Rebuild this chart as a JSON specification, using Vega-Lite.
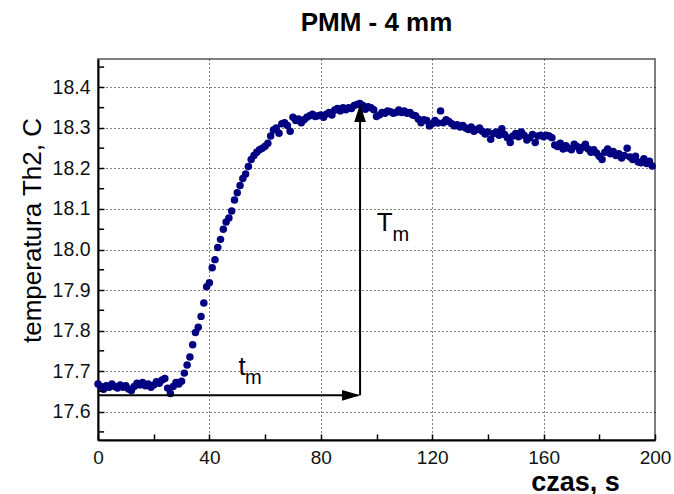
{
  "$schema": "https://vega.github.io/schema/vega-lite/v6.json",
  "width": 557,
  "height": 381,
  "autosize": {"type": "none"},
  "padding": {"left": 98, "top": 59, "right": 19, "bottom": 54},
  "background": "white",
  "config": {
    "font": "Liberation Sans",
    "view": {"stroke": "#555555", "strokeWidth": 1.5}
  },
  "title": {"text": "PMM - 4 mm", "fontSize": 26, "fontWeight": "bold", "anchor": "middle", "baseline": "alphabetic", "offset": 2, "color": "#000000", "font": "Liberation Sans"},
  "datasets": {
    "temp": [
      {"t":0,"T":17.668},{"t":1,"T":17.662},{"t":2,"T":17.655},{"t":3,"T":17.664},{"t":4,"T":17.66},
      {"t":5,"T":17.668},{"t":6,"T":17.662},{"t":7,"T":17.658},{"t":8,"T":17.666},{"t":9,"T":17.66},
      {"t":10,"T":17.664},{"t":11,"T":17.656},{"t":12,"T":17.652},{"t":13,"T":17.662},{"t":14,"T":17.67},
      {"t":15,"T":17.666},{"t":16,"T":17.672},{"t":17,"T":17.664},{"t":18,"T":17.668},{"t":19,"T":17.66},
      {"t":20,"T":17.666},{"t":21,"T":17.674},{"t":22,"T":17.67},{"t":23,"T":17.678},{"t":24,"T":17.682},
      {"t":25,"T":17.658},{"t":26,"T":17.645},{"t":27,"T":17.662},{"t":28,"T":17.672},{"t":29,"T":17.668},
      {"t":30,"T":17.675},{"t":31,"T":17.695},{"t":32,"T":17.715},{"t":33,"T":17.735},{"t":34,"T":17.765},
      {"t":35,"T":17.795},{"t":36,"T":17.808},{"t":37,"T":17.835},{"t":38,"T":17.868},{"t":39,"T":17.908},
      {"t":40,"T":17.918},{"t":41,"T":17.955},{"t":42,"T":17.975},{"t":43,"T":18.005},{"t":44,"T":18.025},
      {"t":45,"T":18.05},{"t":46,"T":18.068},{"t":47,"T":18.078},{"t":48,"T":18.095},{"t":49,"T":18.122},
      {"t":50,"T":18.14},{"t":51,"T":18.158},{"t":52,"T":18.175},{"t":53,"T":18.186},{"t":54,"T":18.205},
      {"t":55,"T":18.222},{"t":56,"T":18.232},{"t":57,"T":18.24},{"t":58,"T":18.246},{"t":59,"T":18.25},
      {"t":60,"T":18.255},{"t":61,"T":18.262},{"t":62,"T":18.28},{"t":63,"T":18.295},{"t":64,"T":18.3},
      {"t":65,"T":18.287},{"t":66,"T":18.31},{"t":67,"T":18.313},{"t":68,"T":18.306},{"t":69,"T":18.292},
      {"t":70,"T":18.326},{"t":71,"T":18.318},{"t":72,"T":18.322},{"t":73,"T":18.313},{"t":74,"T":18.32},
      {"t":75,"T":18.326},{"t":76,"T":18.33},{"t":77,"T":18.334},{"t":78,"T":18.328},{"t":79,"T":18.33},
      {"t":80,"T":18.332},{"t":81,"T":18.326},{"t":82,"T":18.334},{"t":83,"T":18.338},{"t":84,"T":18.332},
      {"t":85,"T":18.344},{"t":86,"T":18.348},{"t":87,"T":18.342},{"t":88,"T":18.35},{"t":89,"T":18.345},
      {"t":90,"T":18.35},{"t":91,"T":18.348},{"t":92,"T":18.355},{"t":93,"T":18.358},{"t":94,"T":18.36},
      {"t":95,"T":18.356},{"t":96,"T":18.346},{"t":97,"T":18.352},{"t":98,"T":18.35},{"t":99,"T":18.345},
      {"t":100,"T":18.328},{"t":101,"T":18.332},{"t":102,"T":18.338},{"t":103,"T":18.336},{"t":104,"T":18.342},
      {"t":105,"T":18.34},{"t":106,"T":18.336},{"t":107,"T":18.338},{"t":108,"T":18.344},{"t":109,"T":18.338},
      {"t":110,"T":18.342},{"t":111,"T":18.336},{"t":112,"T":18.338},{"t":113,"T":18.332},{"t":114,"T":18.33},
      {"t":115,"T":18.322},{"t":116,"T":18.313},{"t":117,"T":18.32},{"t":118,"T":18.318},{"t":119,"T":18.305},
      {"t":120,"T":18.31},{"t":121,"T":18.318},{"t":122,"T":18.312},{"t":123,"T":18.342},{"t":124,"T":18.313},
      {"t":125,"T":18.32},{"t":126,"T":18.316},{"t":127,"T":18.31},{"t":128,"T":18.305},{"t":129,"T":18.308},
      {"t":130,"T":18.302},{"t":131,"T":18.306},{"t":132,"T":18.3},{"t":133,"T":18.296},{"t":134,"T":18.302},
      {"t":135,"T":18.292},{"t":136,"T":18.296},{"t":137,"T":18.3},{"t":138,"T":18.292},{"t":139,"T":18.285},
      {"t":140,"T":18.29},{"t":141,"T":18.272},{"t":142,"T":18.286},{"t":143,"T":18.29},{"t":144,"T":18.282},
      {"t":145,"T":18.298},{"t":146,"T":18.284},{"t":147,"T":18.276},{"t":148,"T":18.264},{"t":149,"T":18.28},
      {"t":150,"T":18.286},{"t":151,"T":18.278},{"t":152,"T":18.29},{"t":153,"T":18.282},{"t":154,"T":18.27},
      {"t":155,"T":18.276},{"t":156,"T":18.284},{"t":157,"T":18.264},{"t":158,"T":18.28},{"t":159,"T":18.282},
      {"t":160,"T":18.278},{"t":161,"T":18.282},{"t":162,"T":18.28},{"t":163,"T":18.276},{"t":164,"T":18.258},
      {"t":165,"T":18.254},{"t":166,"T":18.262},{"t":167,"T":18.248},{"t":168,"T":18.256},{"t":169,"T":18.25},
      {"t":170,"T":18.246},{"t":171,"T":18.26},{"t":172,"T":18.254},{"t":173,"T":18.244},{"t":174,"T":18.252},
      {"t":175,"T":18.26},{"t":176,"T":18.248},{"t":177,"T":18.24},{"t":178,"T":18.246},{"t":179,"T":18.238},
      {"t":180,"T":18.23},{"t":181,"T":18.222},{"t":182,"T":18.24},{"t":183,"T":18.248},{"t":184,"T":18.236},
      {"t":185,"T":18.242},{"t":186,"T":18.232},{"t":187,"T":18.236},{"t":188,"T":18.226},{"t":189,"T":18.232},
      {"t":190,"T":18.25},{"t":191,"T":18.228},{"t":192,"T":18.222},{"t":193,"T":18.23},{"t":194,"T":18.216},
      {"t":195,"T":18.214},{"t":196,"T":18.224},{"t":197,"T":18.212},{"t":198,"T":18.218},{"t":199,"T":18.206}
    ],
    "yminor": [
      {"v": 17.55}, {"v": 17.65}, {"v": 17.75}, {"v": 17.85}, {"v": 17.95},
      {"v": 18.05}, {"v": 18.15}, {"v": 18.25}, {"v": 18.35}, {"v": 18.45}
    ],
    "lines": [
      {"x": 0, "x2": 93.5, "y": 17.6403, "y2": 17.6403},
      {"x": 94.1, "x2": 94.1, "y": 17.6403, "y2": 18.34}
    ],
    "heads": [
      {"x": 94.1, "y": 17.6403, "dir": "right"},
      {"x": 94.1, "y": 18.359, "dir": "up"}
    ],
    "bigText": [
      {"x": 51.7, "y": 17.691, "label": "t"},
      {"x": 102.9, "y": 18.046, "label": "T"}
    ],
    "smallText": [
      {"x": 55.8, "y": 17.667, "label": "m"},
      {"x": 108.7, "y": 18.021, "label": "m"}
    ]
  },
  "layer": [
    {
      "data": {"name": "temp"},
      "mark": {"type": "point", "filled": true, "size": 56, "opacity": 1, "color": "#000080", "strokeWidth": 0},
      "encoding": {
        "x": {
          "field": "t", "type": "quantitative",
          "scale": {"domain": [0, 200], "nice": false, "zero": false},
          "axis": {
            "values": [0, 20, 40, 60, 80, 100, 120, 140, 160, 180, 200],
            "labelExpr": "datum.value % 40 === 0 ? datum.label : ''",
            "grid": true,
            "gridColor": "#000000",
            "gridDash": [1, 3],
            "gridWidth": 1,
            "gridOpacity": {"condition": {"test": "datum.value % 40 === 0 && datum.value > 0 && datum.value < 200", "value": 1}, "value": 0},
            "domainColor": "#000000",
            "domainWidth": 2,
            "tickColor": "#000000",
            "tickWidth": 1.5,
            "tickSize": -6,
            "labelPadding": 14,
            "labelFontSize": 19,
            "labelColor": "#111111",
            "labelFont": "Liberation Sans",
            "labelFlush": false,
            "labelOverlap": false,
            "title": "czas, s",
            "titleFont": "Liberation Sans",
            "titleFontSize": 27,
            "titleFontWeight": "bold",
            "titleColor": "#000000",
            "titleX": 477,
            "titleY": 50,
            "titleAlign": "center",
            "titleBaseline": "alphabetic"
          }
        },
        "y": {
          "field": "T", "type": "quantitative",
          "scale": {"domain": [17.53, 18.47], "nice": false, "zero": false},
          "axis": {
            "values": [17.6, 17.7, 17.8, 17.9, 18.0, 18.1, 18.2, 18.3, 18.4],
            "format": ".1f",
            "grid": true,
            "gridColor": "#000000",
            "gridDash": [1, 3],
            "gridWidth": 1,
            "domainColor": "#000000",
            "domainWidth": 2,
            "tickColor": "#000000",
            "tickWidth": 1.5,
            "tickSize": -6,
            "labelPadding": 14,
            "labelFontSize": 19.5,
            "labelColor": "#111111",
            "labelFont": "Liberation Sans",
            "labelFlush": false,
            "labelOverlap": false,
            "title": "temperatura Th2,  C",
            "titleFont": "Liberation Sans",
            "titleFontSize": 26,
            "titleFontWeight": "normal",
            "titleColor": "#000000",
            "titleAngle": -90,
            "titleX": -66,
            "titleY": 171,
            "titleAlign": "center",
            "titleBaseline": "middle"
          }
        }
      }
    },
    {
      "data": {"name": "yminor"},
      "mark": {"type": "rule", "color": "#000000", "strokeWidth": 1.5},
      "encoding": {
        "x": {"datum": 0, "type": "quantitative"},
        "x2": {"datum": 2.2},
        "y": {"field": "v", "type": "quantitative"}
      }
    },
    {
      "data": {"name": "lines"},
      "mark": {"type": "rule", "color": "#000000", "strokeWidth": 2},
      "encoding": {
        "x": {"field": "x", "type": "quantitative"},
        "x2": {"field": "x2"},
        "y": {"field": "y", "type": "quantitative"},
        "y2": {"field": "y2"}
      }
    },
    {
      "data": {"name": "heads"},
      "mark": {"type": "point", "filled": true, "size": 324, "opacity": 1, "color": "#000000", "strokeWidth": 0},
      "encoding": {
        "x": {"field": "x", "type": "quantitative"},
        "y": {"field": "y", "type": "quantitative"},
        "shape": {"field": "dir", "type": "nominal", "scale": {"domain": ["right", "up"], "range": ["M0,0L-2,-0.6L-2,0.6Z", "M0,0L0.65,2L-0.65,2Z"]}, "legend": null}
      }
    },
    {
      "data": {"name": "bigText"},
      "mark": {"type": "text", "fontSize": 26, "font": "Liberation Sans", "align": "center", "baseline": "alphabetic", "color": "#000000"},
      "encoding": {
        "x": {"field": "x", "type": "quantitative"},
        "y": {"field": "y", "type": "quantitative"},
        "text": {"field": "label"}
      }
    },
    {
      "data": {"name": "smallText"},
      "mark": {"type": "text", "fontSize": 20, "font": "Liberation Sans", "align": "center", "baseline": "alphabetic", "color": "#000000"},
      "encoding": {
        "x": {"field": "x", "type": "quantitative"},
        "y": {"field": "y", "type": "quantitative"},
        "text": {"field": "label"}
      }
    }
  ]
}
